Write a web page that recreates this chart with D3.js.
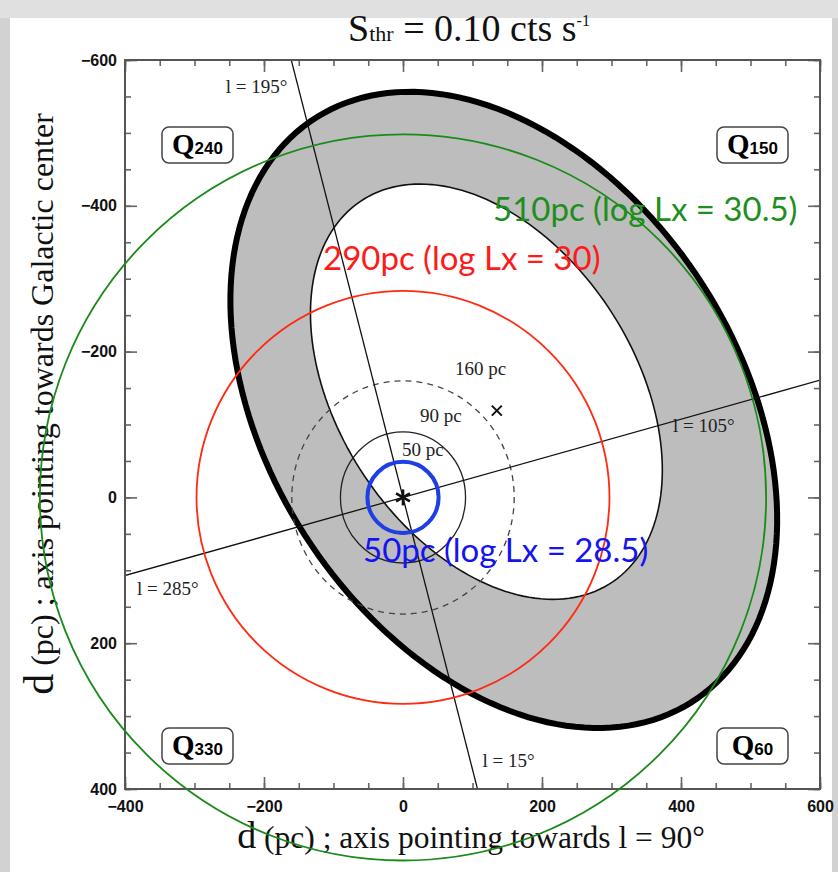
<!DOCTYPE html>
<html>
<head>
<meta charset="utf-8">
<script src="https://cdn.jsdelivr.net/npm/d3@7"></script>
<style>
  body { margin: 0; background: #d2d2d2; }
  svg { display: block; }
</style>
</head>
<body>
<div id="chart"></div>
<script>
// ---- data ----
const xDomain = [-400, 600];
const yDomain = [-600, 400];
const xMajor = [-400, -200, 0, 200, 400, 600];
const yMajor = [-600, -400, -200, 0, 200, 400];

// detection ellipses (pc): outer gray band and inner white hole
const ellCx = [145, 120];
const ellCy = [-120, -145];
const ellA = [484, 318];
const ellB = [333, 210];
const ellAngle = [53.4, 53.7];

// distance rings around the Sun
const ringRadii = [50, 90, 160];
const ringLabels = ["50 pc", "90 pc", "160 pc"];
const ringDashed = [false, false, true];

// galactic longitude lines through the Sun
const lineLong = [15, 105];
const lineLabels = [["l = 15°", "l = 195°"], ["l = 105°", "l = 285°"]];

const crossPoint = [135, -119];

const quadNames = ["240", "150", "330", "60"];

// overlay circles added on the slide
const overRadii = [510, 290, 50];
const overLabels = ["510pc (log Lx = 30.5)", "290pc (log Lx = 30)", "50pc (log Lx = 28.5)"];
const overColors = ["#1a8a1a", "#ff2a10", "#1f3fe6"];
const overText = ["#1e8e1e", "#ff1a1a", "#1414f0"];

// ---- layout ----
const W = 838, H = 872;
const pL = 125, pR = 820, pT = 60, pB = 789;

const svg = d3.select("#chart").append("svg")
  .attr("width", W).attr("height", H);

// slide background
svg.append("rect").attr("width", W).attr("height", H).attr("fill", "#d2d2d2");
svg.append("rect").attr("x", 0).attr("y", 0).attr("width", W).attr("height", 18).attr("fill", "#e0e0e0");
svg.append("rect").attr("x", 10).attr("y", 18).attr("width", 822).attr("height", H - 18).attr("fill", "#fff");

const x = d3.scaleLinear().domain(xDomain).range([pL, pR]);
const y = d3.scaleLinear().domain(yDomain).range([pT, pB]);

svg.append("clipPath").attr("id", "plot")
  .append("rect").attr("x", pL).attr("y", pT)
  .attr("width", pR - pL).attr("height", pB - pT);

const plot = svg.append("g").attr("clip-path", "url(#plot)");

function ellipsePts(cx, cy, a, b, ang) {
  const th = ang * Math.PI / 180;
  return d3.range(0, 360, 2).map(t => {
    const r = t * Math.PI / 180;
    const ex = a * Math.cos(r), ey = b * Math.sin(r);
    return [cx + ex * Math.cos(th) - ey * Math.sin(th),
            cy + ex * Math.sin(th) + ey * Math.cos(th)];
  });
}
const closed = d3.line().x(d => x(d[0])).y(d => y(d[1])).curve(d3.curveLinearClosed);

// outer band
plot.append("path")
  .attr("d", closed(ellipsePts(ellCx[0], ellCy[0], ellA[0], ellB[0], ellAngle[0])))
  .attr("fill", "#bdbdbd").attr("stroke", "#000").attr("stroke-width", 6);
// inner hole
plot.append("path")
  .attr("d", closed(ellipsePts(ellCx[1], ellCy[1], ellA[1], ellB[1], ellAngle[1])))
  .attr("fill", "#fff").attr("stroke", "#111").attr("stroke-width", 1.6);

// rings
ringRadii.forEach((r, i) => {
  plot.append("ellipse")
    .attr("cx", x(0)).attr("cy", y(0))
    .attr("rx", x(r) - x(0)).attr("ry", y(r) - y(0))
    .attr("fill", "none")
    .attr("stroke", ringDashed[i] ? "#444" : "#222")
    .attr("stroke-width", 1.3)
    .attr("stroke-dasharray", ringDashed[i] ? "6,5" : null);
});

// longitude lines
const straight = d3.line().x(d => x(d[0])).y(d => y(d[1]));
lineLong.forEach(L => {
  const s = Math.sin(L * Math.PI / 180), c = Math.cos(L * Math.PI / 180);
  plot.append("path")
    .attr("d", straight([[-1500 * s, -1500 * c], [1500 * s, 1500 * c]]))
    .attr("stroke", "#111").attr("stroke-width", 1.3).attr("fill", "none");
});

const serif = "'Liberation Serif', 'DejaVu Serif', serif";
const t15 = Math.tan(15 * Math.PI / 180);
// label anchors from line / frame intersections
const pTop = [x(yDomain[0] * t15), pT];
const pBot = [x(yDomain[1] * t15), pB];
const pRight = [pR, y(-xDomain[1] * t15)];
const pLeft = [pL, y(-xDomain[0] * t15)];
const lab = svg.append("g").attr("font-family", serif).attr("font-size", 19).attr("fill", "#222");
lab.append("text").attr("x", pTop[0] - 4).attr("y", pTop[1] + 33).attr("text-anchor", "end").text(lineLabels[0][1]);
lab.append("text").attr("x", pBot[0] + 5).attr("y", pBot[1] - 22).text(lineLabels[0][0]);
lab.append("text").attr("x", pRight[0] - 147).attr("y", pRight[1] + 52).text(lineLabels[1][0]);
lab.append("text").attr("x", pLeft[0] + 12).attr("y", pLeft[1] + 19).text(lineLabels[1][1]);

// ring labels, upper right of each ring
const ringLabPos = [[402, 456], [420, 422], [455, 375]];
ringLabels.forEach((t, i) => {
  lab.append("text").attr("x", ringLabPos[i][0]).attr("y", ringLabPos[i][1]).text(t);
});

// cross marker
const cx0 = x(crossPoint[0]), cy0 = y(crossPoint[1]);
svg.append("path")
  .attr("d", `M${cx0 - 5},${cy0 - 5}L${cx0 + 5},${cy0 + 5}M${cx0 - 5},${cy0 + 5}L${cx0 + 5},${cy0 - 5}`)
  .attr("stroke", "#111").attr("stroke-width", 2);

// the Sun (asterisk)
const sx = x(0), sy = y(0);
[90, 30, -30].forEach(a => {
  const r = a * Math.PI / 180;
  svg.append("line")
    .attr("x1", sx - 8 * Math.cos(r)).attr("y1", sy - 8 * Math.sin(r))
    .attr("x2", sx + 8 * Math.cos(r)).attr("y2", sy + 8 * Math.sin(r))
    .attr("stroke", "#111").attr("stroke-width", 2.6);
});

// quadrant boxes
const boxW = 71, boxH = 36;
const boxPos = [[pL + 37, pT + 67], [pR - 32 - boxW, pT + 67],
                [pL + 37, pB - 25 - boxH], [pR - 32 - boxW, pB - 25 - boxH]];
quadNames.forEach((q, i) => {
  const g = svg.append("g").attr("transform", `translate(${boxPos[i][0]},${boxPos[i][1]})`);
  g.append("rect").attr("width", boxW).attr("height", boxH).attr("rx", 7)
    .attr("fill", "#fff").attr("stroke", "#444").attr("stroke-width", 1.5);
  const t = g.append("text").attr("x", boxW / 2).attr("y", 27).attr("text-anchor", "middle");
  t.append("tspan").attr("font-family", serif).attr("font-weight", "bold").attr("font-size", 29).text("Q");
  t.append("tspan").attr("font-family", "'Liberation Sans Narrow', 'Liberation Sans', sans-serif")
    .attr("font-size", 17).attr("font-weight", "bold").text(q);
});

// axes: minor every 50 pc, major every 200 pc, all ticks inside
const tickFont = "'Liberation Sans', Arial, sans-serif";
function styleAxis(g) {
  g.select(".domain").remove();
  g.selectAll(".tick line").attr("stroke", "#666").attr("stroke-width", 1.6);
  g.selectAll(".tick text").attr("font-family", tickFont).attr("font-weight", "bold")
    .attr("font-size", 16).attr("fill", "#111");
}
const fmt = d3.format("d");
svg.append("g").attr("transform", `translate(0,${pB})`)
  .call(d3.axisBottom(x).tickValues(x.ticks(20)).tickSize(-6).tickFormat("")).call(styleAxis);
svg.append("g").attr("transform", `translate(0,${pB})`)
  .call(d3.axisBottom(x).tickValues(xMajor).tickSize(-12).tickPadding(12).tickFormat(fmt)).call(styleAxis);
svg.append("g").attr("transform", `translate(0,${pT})`)
  .call(d3.axisTop(x).tickValues(x.ticks(20)).tickSize(-6).tickFormat("")).call(styleAxis);
svg.append("g").attr("transform", `translate(0,${pT})`)
  .call(d3.axisTop(x).tickValues(xMajor).tickSize(-12).tickFormat("")).call(styleAxis);
svg.append("g").attr("transform", `translate(${pL},0)`)
  .call(d3.axisLeft(y).tickValues(y.ticks(20)).tickSize(-6).tickFormat("")).call(styleAxis);
svg.append("g").attr("transform", `translate(${pL},0)`)
  .call(d3.axisLeft(y).tickValues(yMajor).tickSize(-12).tickPadding(8).tickFormat(fmt)).call(styleAxis);
svg.append("g").attr("transform", `translate(${pR},0)`)
  .call(d3.axisRight(y).tickValues(y.ticks(20)).tickSize(-6).tickFormat("")).call(styleAxis);
svg.append("g").attr("transform", `translate(${pR},0)`)
  .call(d3.axisRight(y).tickValues(yMajor).tickSize(-12).tickFormat("")).call(styleAxis);

svg.append("rect").attr("x", pL).attr("y", pT)
  .attr("width", pR - pL).attr("height", pB - pT)
  .attr("fill", "none").attr("stroke", "#555").attr("stroke-width", 2);

// title
const title = svg.append("text").attr("x", 469).attr("y", 41).attr("text-anchor", "middle")
  .attr("font-family", serif).attr("fill", "#111");
title.append("tspan").attr("font-size", 38).text("S");
title.append("tspan").attr("font-size", 22).text("thr");
title.append("tspan").attr("font-size", 38).text(" = 0.10 cts s");
title.append("tspan").attr("font-size", 16).attr("dy", -15).text("-1");

// axis titles
const xt = svg.append("text").attr("x", 471).attr("y", 848).attr("text-anchor", "middle")
  .attr("font-family", serif).attr("fill", "#111");
xt.append("tspan").attr("font-size", 38).text("d");
xt.append("tspan").attr("font-size", 31.5).text(" (pc) ; axis pointing towards l = 90°");

const yt = svg.append("text").attr("transform", "translate(53,404) rotate(-90)")
  .attr("text-anchor", "middle").attr("font-family", serif).attr("fill", "#111");
yt.append("tspan").attr("font-size", 42).text("d");
yt.append("tspan").attr("font-size", 32).text(" (pc) ; axis pointing towards Galactic center");

// overlay circles and labels
const k = ((x(100) - x(0)) + (y(100) - y(0))) / 200;
overRadii.forEach((r, i) => {
  svg.append("circle").attr("cx", sx).attr("cy", sy).attr("r", r * k)
    .attr("fill", "none").attr("stroke", overColors[i]).attr("stroke-width", i === 2 ? 4 : 1.8);
});
const overPos = [[493, 221], [323, 270], [363, 562]];
overLabels.forEach((t, i) => {
  svg.append("text").attr("x", overPos[i][0]).attr("y", overPos[i][1])
    .attr("font-family", "Lato, 'Open Sans', sans-serif").attr("font-size", 33)
    .attr("fill", overText[i]).text(t);
});
</script>
</body>
</html>
